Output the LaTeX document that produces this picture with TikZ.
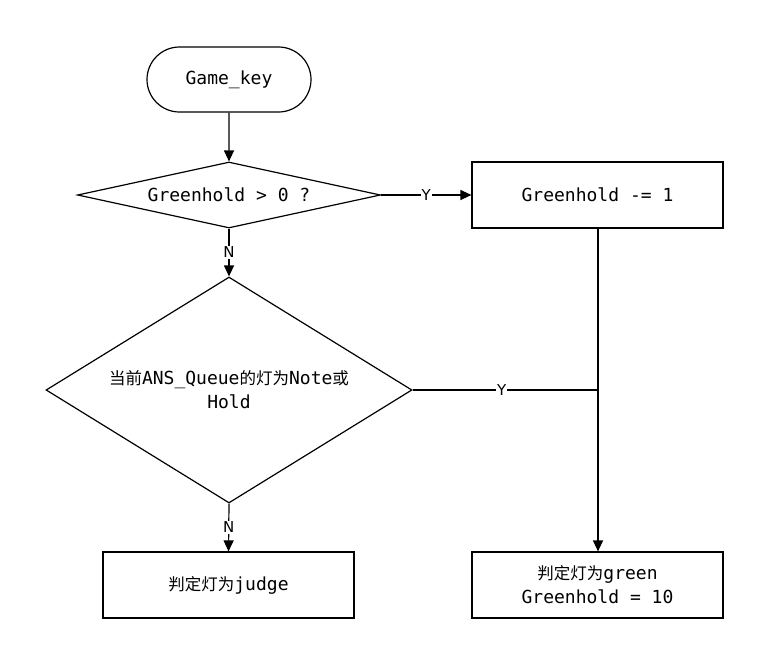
\documentclass[tikz,border=0pt]{standalone}
\usepackage{fontspec}
\setmonofont{DejaVu Sans Mono}
\newfontfamily\cjkfont{Noto Sans CJK SC}
\newfontfamily\lblfont{DejaVu Sans}
\usetikzlibrary{shapes.geometric,shapes.misc,arrows.meta}
\newcommand{\cjktext}[1]{{\cjkfont\fontsize{16.5}{24}\selectfont #1}}
\tikzset{
  base/.style={draw=black, line width=1.2pt, inner sep=0pt, align=center,
    font=\ttfamily\fontsize{18}{24}\selectfont},
  term/.style={base, rounded rectangle, minimum width=164pt, minimum height=65pt},
  decision/.style={base, diamond},
  process/.style={base, rectangle, minimum width=251pt, minimum height=66pt},
  conn/.style={line width=1.2pt, draw=black},
  arr/.style={conn, -{Triangle[length=11pt,width=10pt]}},
  lbl/.style={fill=white, inner sep=1pt, font=\lblfont\fontsize{15}{18}\selectfont}
}
\begin{document}
\begin{tikzpicture}[x=1pt,y=-1pt]
\useasboundingbox[fill=white] (0,0) rectangle (771,648);
\node[term] (start) at (229,79.5) {Game\_key};
\node[decision, minimum width=303pt, minimum height=66pt, aspect=4.59] (d1) at (229,195) {Greenhold > 0 ?};
\node[process] (p1) at (597.5,195) {Greenhold -= 1};
\node[decision, minimum width=366pt, minimum height=226pt, aspect=1.62] (d2) at (229,390)
  {\cjktext{当前}ANS\_Queue\cjktext{的灯为}Note\cjktext{或}\\Hold};
\node[process] (judge) at (228.5,585) {\cjktext{判定灯为}judge};
\node[process] (green) at (597.5,585) {\cjktext{判定灯为}green\\Greenhold = 10};
\coordinate (j) at (598,390);

\draw[arr] (start) -- (d1);
\draw[arr] (d1.east) -- node[lbl, pos=0.5] {Y} (p1.west);
\draw[arr] (d1.south) -- node[lbl, pos=0.5] {N} (d2.north);
\draw[arr] (p1.south -| j) -- (green.north -| j);
\draw[conn] (d2.east) -- node[lbl, pos=0.48] {Y} (j);
\draw[arr] (d2.south) -- node[lbl, pos=0.5] {N} (judge.north);
\end{tikzpicture}
\end{document}
